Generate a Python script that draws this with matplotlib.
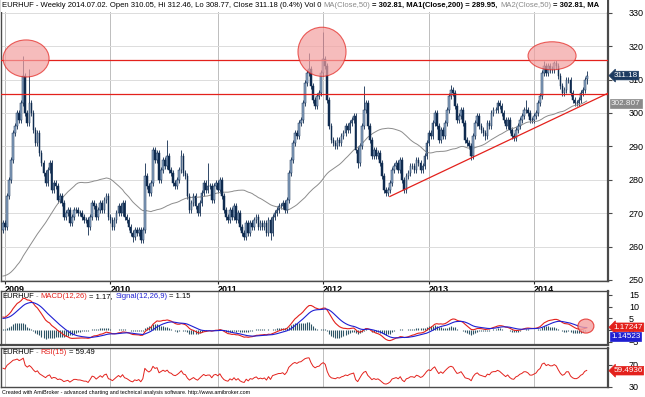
import numpy as np
import pandas as pd
import matplotlib
matplotlib.use("Agg")
import matplotlib.pyplot as plt
import matplotlib.transforms as mtransforms
from matplotlib.patches import Ellipse, Rectangle

plt.rcParams["font.family"] = ["Liberation Sans", "DejaVu Sans"]

# EURHUF weekly closes in 2008, only used to warm up MA / MACD / RSI
closes_2008 = [254, 256, 258, 260, 262, 263, 262, 264, 262, 260, 262, 258, 255,
               253, 252, 253, 252, 248, 246, 247, 246, 244, 240, 237, 235, 234,
               232, 231, 230, 230, 233, 235, 236, 237, 238, 240, 242, 244, 240,
               250, 262, 268, 272, 268, 264, 262, 266, 262, 265, 263, 262, 265]

# weekly closes shown on the chart (week of 2008-12-26 .. 2014-07-04)
closes = [267, 266, 275, 280, 286, 294, 296, 300, 298, 303,
          311, 300, 297, 303, 300, 295, 291, 294, 288, 285,
          282, 279, 283, 285, 277, 279, 278, 274, 275, 273,
          269, 270, 271, 267, 269, 271, 271, 270, 270, 269,
          268, 268, 266, 269, 273, 272, 269, 271, 273, 271,
          274, 275, 269, 268, 266, 268, 270, 272, 270, 273,
          269, 268, 266, 264, 263, 265, 264, 265, 262, 265,
          281, 278, 276, 279, 289, 286, 288, 280, 283, 286,
          284, 287, 283, 282, 279, 278, 280, 283, 287, 282,
          281, 275, 271, 273, 275, 272, 270, 273, 276, 279,
          277, 278,
          278, 274, 278, 279, 277, 280, 275, 271, 269, 268,
          271, 269, 272, 268, 270, 266, 264, 263, 267, 264,
          267, 266, 268, 269, 266, 267, 266, 267, 264, 268,
          264, 269, 270, 271, 272, 272, 273, 271, 274, 282,
          286, 291, 294, 293, 297, 298, 303, 309, 312, 313,
          308, 304, 302, 305, 306, 312, 316, 314, 304, 296,
          292, 291, 290, 292, 291, 293, 294, 296, 295, 297,
          298, 299, 289, 285, 290, 296, 301, 303, 296, 292,
          287, 289, 287, 288, 285, 281, 277, 276, 277, 279,
          283, 284, 285, 283, 286, 280, 277, 281, 282, 284, 284,
          283, 286, 285, 283, 284, 287, 291, 294, 293, 297,
          300, 296, 292, 295, 293, 297, 301, 305, 307, 306,
          302, 298, 299, 301, 297, 292, 291, 290, 287, 293,
          297, 299, 296, 295, 294, 293, 297, 296, 300, 301,
          301, 303, 302, 300, 298, 296, 298, 295, 293, 292.5,
          295, 296, 298, 299, 301, 301, 300, 298, 298, 299,
          300, 303, 305, 312, 314, 312, 314, 313, 313, 315,
          314, 311, 308, 306, 307, 310, 310, 306, 304, 303,
          303, 304, 306, 307, 310, 311.18]
first_week = "2008-12-26"
last_open, last_high, last_low = 310.05, 312.46, 308.77

# weekly extremes that stick out of the bodies
spike_highs = {10: 317.0, 13: 313.0, 70: 285.0, 81: 292.0, 88: 289.0, 101: 285.0,
               151: 318.0, 158: 324.3, 178: 308.0, 221: 308.5, 244: 304.0,
               258: 304.0, 267: 315.5, 272: 315.5}
spike_lows = {42: 263.5, 64: 261.5, 132: 262.0, 175: 283.5, 189: 275.0,
              198: 276.0, 231: 286.0, 238: 292.0}

price_ticks = [250, 260, 270, 280, 290, 300, 310, 320, 330]
macd_ticks = [-5, 0, 5, 10, 15]
rsi_ticks = [30, 70]

# hand drawn annotations (bar index, value)
resistance = [315.8, 305.8]
support_x = [190.9, 298.5]
support_y = [275.0, 305.9]
price_circles = [(11.4, 316.3, 22.7, 11.1), (157.4, 318.3, 23.7, 14.7),
                 (270.9, 317.1, 23.7, 8.4)]
macd_circle = (287.6, 1.7, 7.9, 6.0)

# ---- indicators ----
allc = pd.Series(closes_2008 + closes, dtype=float)
k = len(closes_2008)
ma50 = allc.rolling(50).mean().values[k:]
macd_s = allc.ewm(span=12, adjust=False).mean() - allc.ewm(span=26, adjust=False).mean()
sig_s = macd_s.ewm(span=9, adjust=False).mean()
macd = macd_s.values[k:]
sig = sig_s.values[k:]
hist = macd - sig
d = allc.diff()
gain = d.clip(lower=0).ewm(alpha=1 / 15, adjust=False).mean()
loss = (-d.clip(upper=0)).ewm(alpha=1 / 15, adjust=False).mean()
rsi = (100 - 100 / (1 + gain / loss)).values[k:]

# ---- candles ----
n = len(closes)
x = np.arange(n)
c = np.array(closes, dtype=float)
o = np.r_[closes_2008[-1], c[:-1]]
o[-1] = last_open
hi = np.maximum(o, c) + 0.9
lo = np.minimum(o, c) - 0.9
for i, v in spike_highs.items():
    hi[i] = v
for i, v in spike_lows.items():
    lo[i] = v
hi[-1], lo[-1] = last_high, last_low

dates = pd.date_range(first_week, periods=n, freq="W-FRI")
year_pos = [i for i in range(1, n) if dates[i].year != dates[i - 1].year]
year_lab = [str(dates[i].year) for i in year_pos]

# ---- layout ----
W, H = 645, 397
fig = plt.figure(figsize=(W / 100, H / 100), dpi=100)


def rect(x0, y0, x1, y1):
    return [x0 / W, 1 - y1 / H, (x1 - x0) / W, (y1 - y0) / H]


ax_p = fig.add_axes(rect(1, 0, 608, 281))
ax_m = fig.add_axes(rect(1, 291, 608, 345), sharex=ax_p)
ax_r = fig.add_axes(rect(1, 348, 608, 387), sharex=ax_p)

navy = "#0f2b4f"
light = "#91aac8"
red = "#e3211c"
blue = "#1f1fd2"
frame = "#4a4a4a"

# price panel
ax_p.vlines(x, lo, hi, color=navy, lw=0.6, zorder=2)
upm = c >= o
ax_p.bar(x[upm], (c - o)[upm], bottom=o[upm], width=0.8, color=light,
         edgecolor=navy, lw=0.35, zorder=3)
ax_p.bar(x[~upm], (o - c)[~upm], bottom=c[~upm], width=0.8, color=navy,
         edgecolor=navy, lw=0.35, zorder=3)
ax_p.plot(x, ma50, color="#8c8c8c", lw=0.7, zorder=2)
for lvl in resistance:
    ax_p.axhline(lvl, color=red, lw=0.9, zorder=4)
ax_p.plot(support_x, support_y, color=red, lw=0.9, zorder=4)
for cx, cy, w, h in price_circles:
    ax_p.add_patch(Ellipse((cx, cy), w, h, fc="#f3a0a0", ec=red, lw=0.8,
                           alpha=0.7, zorder=5))

ax_p.set_xlim(-0.97, 298.5)
ax_p.set_ylim(249.7, 333.8)
ax_p.set_yticks(price_ticks)
ax_p.yaxis.tick_right()
ax_p.tick_params(axis="y", length=3, pad=12, labelsize=6.5, color=frame)
ax_p.set_xticks(year_pos)
ax_p.set_xticklabels(year_lab, ha="left", fontsize=6.5, fontweight="bold")
ax_p.tick_params(axis="x", length=2.5, pad=0.5, color="#222222")
ax_p.xaxis.grid(True, color="#bdbdbd", lw=0.7)
ax_p.yaxis.grid(True, color="#dcdcdc", lw=0.7)
ax_p.set_axisbelow(True)

# MACD panel
ax_m.vlines(x, 0, hist, color="#2e5566", lw=0.8)
ax_m.plot(x, macd, color=red, lw=0.8)
ax_m.plot(x, sig, color=blue, lw=0.8)
cx, cy, w, h = macd_circle
ax_m.add_patch(Ellipse((cx, cy), w, h, fc="#f3a0a0", ec=red, lw=0.8,
                       alpha=0.8, zorder=5))
ax_m.set_ylim(-6.4, 16.7)
ax_m.set_yticks(macd_ticks)
ax_m.yaxis.tick_right()
ax_m.tick_params(axis="y", length=3, pad=12, labelsize=6.5, color=frame)
ax_m.tick_params(axis="x", bottom=False, labelbottom=False)
ax_m.xaxis.grid(True, color="#bdbdbd", lw=0.7)

# RSI panel
ax_r.plot(x, rsi, color=red, lw=0.7)
ax_r.set_ylim(29.4, 101.3)
ax_r.set_yticks(rsi_ticks)
ax_r.yaxis.tick_right()
ax_r.tick_params(axis="y", length=3, pad=12, labelsize=6.5, color=frame)
ax_r.tick_params(axis="x", bottom=False, labelbottom=False)
ax_r.xaxis.grid(True, color="#bdbdbd", lw=0.7)

for ax in (ax_p, ax_m, ax_r):
    for s in ax.spines.values():
        s.set_color(frame)
        s.set_linewidth(1.0)
    ax.spines["right"].set_linewidth(1.6)
ax_p.spines["top"].set_visible(False)
ax_m.spines["bottom"].set_linewidth(1.6)

# white strip behind the price header
fig.patches.append(Rectangle((1 / W, 1 - 12 / H), 606 / W, 12 / H,
                             transform=fig.transFigure, fc="white", ec="none",
                             zorder=5))


# value labels on the right axis
def value_tag(ax, val, txt, fc, tc="white", arrow=True, dy=0):
    tr = mtransforms.blended_transform_factory(ax.transAxes, ax.transData)
    tr = tr + mtransforms.ScaledTranslation(0, dy / 100, fig.dpi_scale_trans)
    style = "larrow,pad=0.1" if arrow else "square,pad=0.1"
    ax.text(1.009 if arrow else 1.005, val, txt, transform=tr, ha="left",
            va="center", fontsize=5.9, color=tc, clip_on=False, zorder=10,
            bbox=dict(boxstyle=style, fc=fc, ec=fc, lw=0.5))


value_tag(ax_p, 311.18, "311.18", "#1c3a60")
value_tag(ax_p, 302.807, "302.807", "#8a8a8a", tc="#f4f4f4", arrow=False)
value_tag(ax_m, 1.17247, "1.17247", red)
value_tag(ax_m, 1.14523, "1.14523", blue, arrow=False, dy=-9)
value_tag(ax_r, 59.4936, "59.4936", red)


# headers made of coloured pieces
def header(x0, y, pieces, size, target):
    r = fig.canvas.get_renderer()

    def draw(sz):
        arts, xx = [], x0
        for txt, col, wt, gap in pieces:
            t = fig.text(xx / W, 1 - y / H, txt, color=col, fontweight=wt,
                         fontsize=sz, ha="left", va="center", zorder=11)
            arts.append(t)
            xx = t.get_window_extent(r).x1 + gap * sz * 100 / 72 * 0.28
        return arts, xx

    arts, end = draw(size)
    for a in arts:
        a.remove()
    draw(size * (target - x0) / (end - x0))


gray = "#8a8a8a"
header(2, 5.5, [("EURHUF - Weekly 2014.07.02. Open 310.05, Hi 312.46, Lo 308.77, "
                 "Close 311.18 (0.4%) Vol 0", "black", "normal", 1),
                ("MA(Close,50)", gray, "normal", 1),
                ("= 302.81, MA1(Close,200) = 289.95,", "black", "bold", 1),
                ("MA2(Close,50)", gray, "normal", 1),
                ("= 302.81, MA", "black", "bold", 0)], 6.0, 606)
header(2, 297, [("EURHUF", "black", "normal", 1), ("-", gray, "normal", 1),
                ("MACD(12,26)", red, "normal", 1), ("= 1.17,", "black", "normal", 1),
                ("Signal(12,26,9)", blue, "normal", 1), ("= 1.15", "black", "normal", 0)],
       6.0, 192)
header(2, 352.5, [("EURHUF", "black", "normal", 1), ("-", gray, "normal", 1),
                  ("RSI(15)", red, "normal", 1), ("= 59.49", "black", "normal", 0)],
       6.0, 95)

fig.text(2 / W, 1 - 392.5 / H,
         "Created with AmiBroker - advanced charting and technical analysis software. "
         "http://www.amibroker.com", fontsize=3.9, ha="left", va="center")

fig.savefig("out.png", dpi=100)
